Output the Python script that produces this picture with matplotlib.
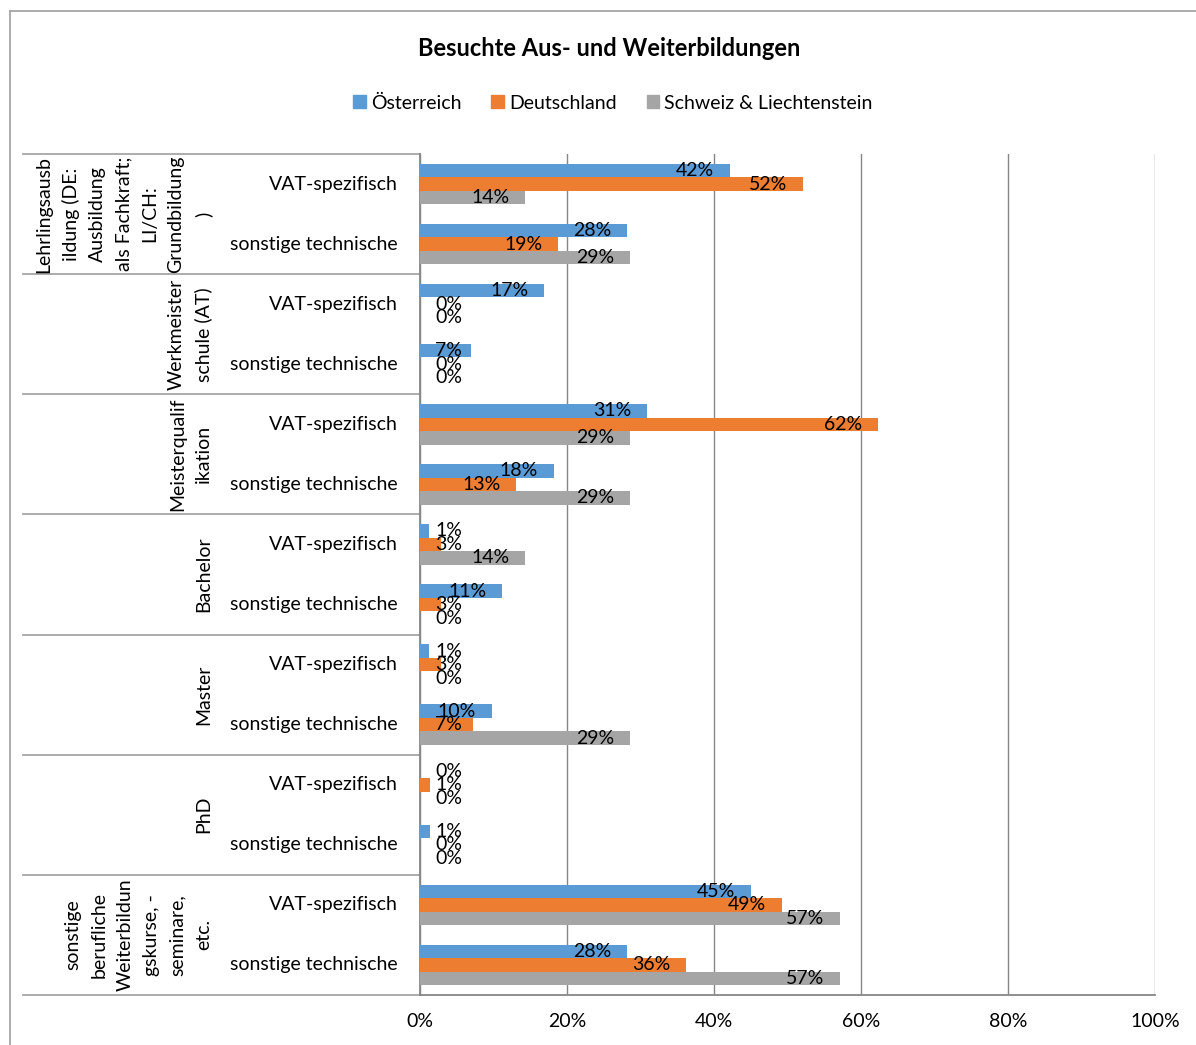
import matplotlib.pyplot as plt
import matplotlib.transforms as mtransforms
from matplotlib.patches import Patch
from matplotlib.lines import Line2D

plt.rcParams['font.family'] = ['Lato', 'DejaVu Sans']

# data
groups = ["Lehrlingsausb\nildung (DE:\nAusbildung\nals Fachkraft;\nLI/CH:\nGrundbildung\n)",
          "Werkmeister\nschule (AT)",
          "Meisterqualif\nikation",
          "Bachelor",
          "Master",
          "PhD",
          "sonstige\nberufliche\nWeiterbildun\ngskurse, -\nseminare,\netc."]
subcats = ["VAT-spezifisch", "sonstige technische"]
series = ["Österreich", "Deutschland", "Schweiz & Liechtenstein"]
oesterreich = [42.2, 28.2, 16.9, 6.9, 30.9, 18.2, 1.2, 11.2, 1.2, 9.8, 0.0, 1.3, 45.0, 28.2]
deutschland = [52.1, 18.8, 0.0, 0.0, 62.3, 13.1, 2.9, 2.9, 2.9, 7.2, 1.4, 0.0, 49.3, 36.2]
schweiz = [14.3, 28.6, 0.0, 0.0, 28.6, 28.6, 14.3, 0.0, 0.0, 28.6, 0.0, 0.0, 57.1, 57.1]
colors = ["#5B9BD5", "#ED7D31", "#A5A5A5"]
xticks = [0, 20, 40, 60, 80, 100]

W, H = 1196, 1045
fs = 14
fig = plt.figure(figsize=(W / 100, H / 100), dpi=100)
ax = fig.add_axes([420 / W, 1 - 995 / H, (1155 - 420) / W, (995 - 154) / H])

n = len(oesterreich)
bh = 0.225
ypos = [i + 0.5 for i in range(n)]
allvals = [oesterreich, deutschland, schweiz]
for k, vals in enumerate(allvals):
    ax.barh([y + (k - 1) * bh for y in ypos], vals, height=bh, color=colors[k],
            label=series[k], zorder=3)

ax.set_xlim(0, 100)
ax.set_ylim(n, 0)
ax.set_xticks(xticks)
ax.set_xticklabels(["%d%%" % t for t in xticks], fontsize=fs)
ax.tick_params(axis='x', length=0, pad=13)
ax.set_yticks([])
ax.grid(axis='x', color='#868686', linewidth=1.0, zorder=0)
for s in ['top', 'right']:
    ax.spines[s].set_visible(False)
for s in ['left', 'bottom']:
    ax.spines[s].set_color('#868686')
    ax.spines[s].set_linewidth(1.3)

# data labels: inside end, pushed to the start when too small
fig.canvas.draw()
renderer = fig.canvas.get_renderer()
for k, vals in enumerate(allvals):
    for i, v in enumerate(vals):
        y = ypos[i] + (k - 1) * bh
        t = ax.annotate("%d%%" % round(v), (v, y), xytext=(-11.5, 0),
                        textcoords='offset points', ha='right', va='center',
                        fontsize=fs, zorder=4)
        bb = t.get_window_extent(renderer)
        if bb.x0 < 435:
            t.set_position((10.8, 0))
            t.xy = (0, y)
            t.set_ha('left')

# category axis table
tr = mtransforms.blended_transform_factory(fig.transFigure, ax.transData)
for g in range(len(groups) + 1):
    ax.add_line(Line2D([23 / W, 420 / W], [2 * g, 2 * g], transform=tr,
                       color='#A6A6A6', linewidth=1.3, clip_on=False))
for i in range(n):
    ax.text(398 / W, ypos[i], subcats[i % 2], transform=tr, ha='right',
            va='center', fontsize=fs)
for g, name in enumerate(groups):
    ax.text(212 / W, 2 * g + 1, name, transform=tr, rotation=90, ha='right',
            va='center', multialignment='center', fontsize=fs, linespacing=1.65)

# title and legend
fig.text(609 / W, 1 - 48 / H, "Besuchte Aus- und Weiterbildungen", ha='center',
         va='center', fontsize=17, fontweight='bold')
handles = [Patch(color=c) for c in colors]
fig.legend(handles, series, loc='center', bbox_to_anchor=(613 / W, 1 - 103 / H),
           ncol=3, frameon=False, fontsize=fs, handlelength=0.65, handleheight=0.65,
           handletextpad=0.25, columnspacing=1.55)

# chart border
fig.add_artist(Line2D([10 / W, 10 / W], [0, 1 - 11 / H], color='#A6A6A6', linewidth=1.3))
fig.add_artist(Line2D([10 / W, 1], [1 - 11 / H, 1 - 11 / H], color='#A6A6A6', linewidth=1.3))

fig.savefig('out.png', dpi=100)
